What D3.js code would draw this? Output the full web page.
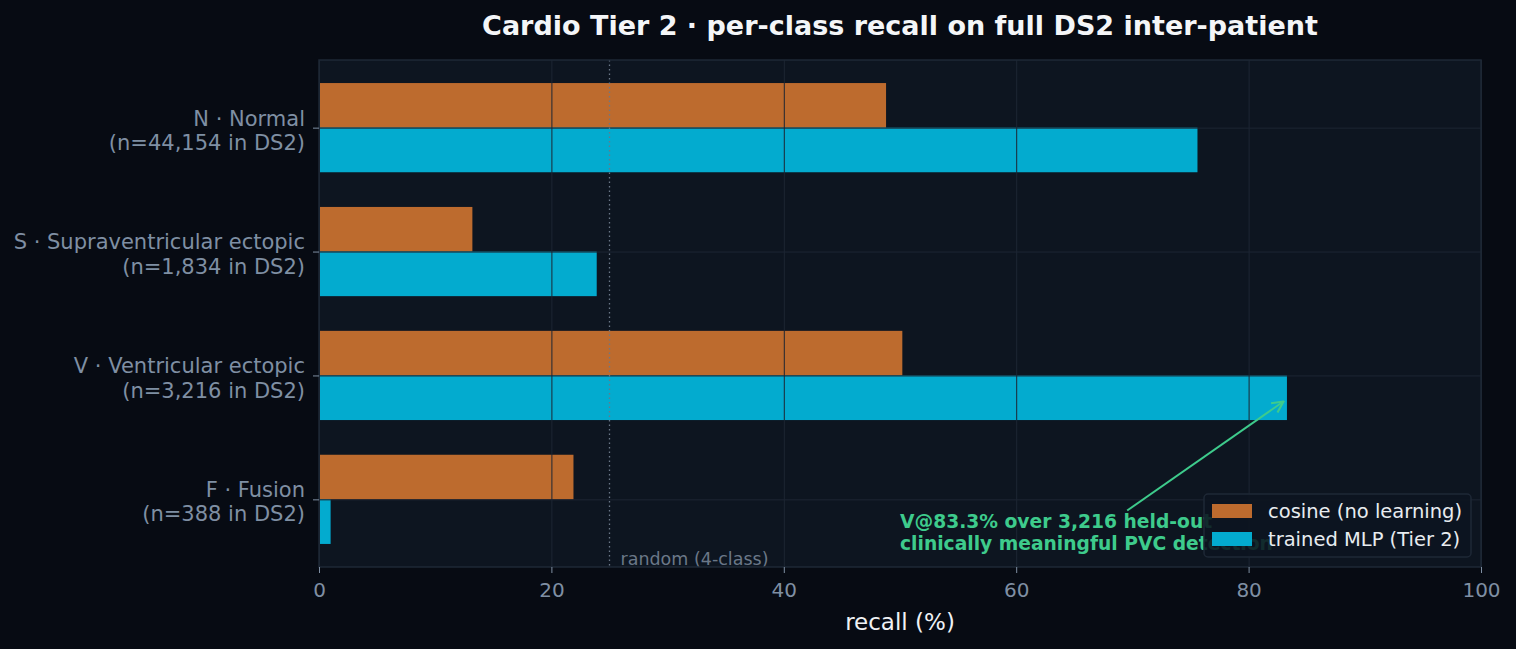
<!DOCTYPE html>
<html>
<head>
<meta charset="utf-8">
<script src="https://cdn.jsdelivr.net/npm/d3@7.9.0/dist/d3.min.js"></script>
<style>
  html, body { margin: 0; padding: 0; background: #070b13; }
  svg { display: block; font-family: "DejaVu Sans", sans-serif; }
</style>
</head>
<body>
<svg id="chart" width="1516" height="649"></svg>
<script>
// class labels (two lines each)
const classNames = ["N · Normal", "S · Supraventricular ectopic", "V · Ventricular ectopic", "F · Fusion"];
const classCounts = ["(n=44,154 in DS2)", "(n=1,834 in DS2)", "(n=3,216 in DS2)", "(n=388 in DS2)"];
const cosineRecall = [48.8, 13.2, 50.2, 21.9];
const mlpRecall = [75.6, 23.9, 83.3, 1.0];
const xTicks = [0, 20, 40, 60, 80, 100];
const randomLine = 25;
const seriesNames = ["cosine (no learning)", "trained MLP (Tier 2)"];
const seriesColors = ["#bd6b2e", "#03abcf"];

const margin = { top: 60, right: 35, bottom: 82, left: 319 };
const width = 1516, height = 649;
const plotW = width - margin.left - margin.right;
const plotH = height - margin.top - margin.bottom;
const barH = 0.36;

const svg = d3.select("#chart");

svg.append("rect").attr("width", width).attr("height", height).attr("fill", "#070b13");

const x = d3.scaleLinear().domain([0, 100]).range([0, plotW]);
const y = d3.scaleLinear().domain([-0.546, 3.546]).range([0, plotH]);

const g = svg.append("g").attr("transform", `translate(${margin.left},${margin.top})`);

// plot background
g.append("rect").attr("width", plotW).attr("height", plotH).attr("fill", "#0d1520");

// bars
const rows = classNames.map((d, i) => ({ i, cos: cosineRecall[i], mlp: mlpRecall[i] }));

g.selectAll(".bar-cos")
  .data(rows)
  .enter().append("rect")
  .attr("class", "bar-cos")
  .attr("x", x(0))
  .attr("y", d => y(d.i - barH))
  .attr("width", d => x(d.cos) - x(0))
  .attr("height", y(barH) - y(0))
  .attr("fill", seriesColors[0]);

g.selectAll(".bar-mlp")
  .data(rows)
  .enter().append("rect")
  .attr("class", "bar-mlp")
  .attr("x", x(0))
  .attr("y", d => y(d.i))
  .attr("width", d => x(d.mlp) - x(0))
  .attr("height", y(barH) - y(0))
  .attr("fill", seriesColors[1]);

// grid lines on top of bars
g.append("g")
  .attr("class", "grid")
  .attr("transform", `translate(0,${plotH})`)
  .call(d3.axisBottom(x).tickValues(xTicks).tickSize(-plotH).tickFormat(""))
  .call(s => s.select(".domain").remove())
  .call(s => s.selectAll("line").attr("stroke", "#1d2633").attr("stroke-width", 1));

g.append("g")
  .attr("class", "grid")
  .call(d3.axisLeft(y).tickValues(d3.range(classNames.length)).tickSize(-plotW).tickFormat(""))
  .call(s => s.select(".domain").remove())
  .call(s => s.selectAll("line").attr("stroke", "#1d2633").attr("stroke-width", 1));

// random baseline
g.append("line")
  .attr("x1", x(randomLine)).attr("x2", x(randomLine))
  .attr("y1", 0).attr("y2", plotH)
  .attr("stroke", "#6b7888")
  .attr("stroke-width", 1.3)
  .attr("stroke-dasharray", "1.5,3");

g.append("text")
  .attr("x", x(randomLine) + 11)
  .attr("y", plotH - 2)
  .attr("fill", "#6b7888")
  .style("font-size", "17.5px")
  .text("random (4-class)");

// frame
g.append("rect").attr("width", plotW).attr("height", plotH)
  .attr("fill", "none").attr("stroke", "#1e2836").attr("stroke-width", 1.5);

// x axis
const xAxis = g.append("g")
  .attr("transform", `translate(0,${plotH})`)
  .call(d3.axisBottom(x).tickValues(xTicks).tickSize(6).tickPadding(10));
xAxis.select(".domain").remove();
xAxis.selectAll("line").attr("stroke", "#7f8fa3").attr("stroke-width", 1);
xAxis.selectAll("text").attr("fill", "#7f8fa3").style("font-size", "20px")
  .style("font-family", "DejaVu Sans, sans-serif");

// y axis
const yAxis = g.append("g")
  .call(d3.axisLeft(y).tickValues(d3.range(classNames.length)).tickSize(6).tickFormat(""));
yAxis.select(".domain").remove();
yAxis.selectAll("line").attr("stroke", "#7f8fa3").attr("stroke-width", 1);

const yLabels = g.append("g");
classNames.forEach((name, i) => {
  const t = yLabels.append("text")
    .attr("x", -14)
    .attr("y", y(i))
    .attr("text-anchor", "end")
    .attr("fill", "#7f8fa3")
    .style("font-size", "21px");
  t.append("tspan").attr("x", -14).attr("dy", "-0.1em").text(name);
  t.append("tspan").attr("x", -14).attr("dy", "1.15em").text(classCounts[i]);
});

// axis label
svg.append("text")
  .attr("x", margin.left + plotW / 2)
  .attr("y", 630)
  .attr("text-anchor", "middle")
  .attr("fill", "#f0f2f5")
  .style("font-size", "23px")
  .text("recall (%)");

// title
svg.append("text")
  .attr("x", margin.left + plotW / 2)
  .attr("y", 35)
  .attr("text-anchor", "middle")
  .attr("fill", "#f4f6f8")
  .style("font-size", "27px")
  .style("font-weight", "bold")
  .text("Cardio Tier 2 · per-class recall on full DS2 inter-patient");

// annotation
const annoColor = "#3ecb8c";
const defs = svg.append("defs");
defs.append("marker")
  .attr("id", "arrow")
  .attr("viewBox", "0 0 10 10")
  .attr("refX", 9).attr("refY", 5)
  .attr("markerWidth", 7).attr("markerHeight", 7)
  .attr("orient", "auto")
  .append("path")
  .attr("d", "M1,1 L9,5 L1,9")
  .attr("fill", "none")
  .attr("stroke", annoColor)
  .attr("stroke-width", 1.5);

const vIdx = 2;
g.append("line")
  .attr("x1", x(69.55)).attr("y1", y(3.09))
  .attr("x2", x(mlpRecall[vIdx] - 0.3)).attr("y2", y(vIdx + 0.21))
  .attr("stroke", annoColor)
  .attr("stroke-width", 2)
  .attr("marker-end", "url(#arrow)");

const anno = g.append("text")
  .attr("x", x(50))
  .attr("y", y(3.23))
  .attr("fill", annoColor)
  .style("font-size", "18.7px")
  .style("font-weight", "bold");
anno.append("tspan").attr("x", x(50)).attr("dy", 0).text(`V@${mlpRecall[vIdx]}% over 3,216 held-out`);
anno.append("tspan").attr("x", x(50)).attr("dy", "1.18em").text("clinically meaningful PVC detection");

// legend
const legend = svg.append("g").attr("transform", "translate(1204,494)");
legend.append("rect")
  .attr("width", 267).attr("height", 63).attr("rx", 4)
  .attr("fill", "#0d1520").attr("fill-opacity", 0.88)
  .attr("stroke", "#1e2836").attr("stroke-width", 1.5);
seriesNames.forEach((name, i) => {
  legend.append("rect")
    .attr("x", 8).attr("y", 10 + i * 28)
    .attr("width", 40).attr("height", 14)
    .attr("fill", seriesColors[i]);
  legend.append("text")
    .attr("x", 64).attr("y", 17 + i * 28)
    .attr("dy", "0.35em")
    .attr("fill", "#e8ecf0")
    .style("font-size", "19.5px")
    .text(name);
});
</script>
</body>
</html>
